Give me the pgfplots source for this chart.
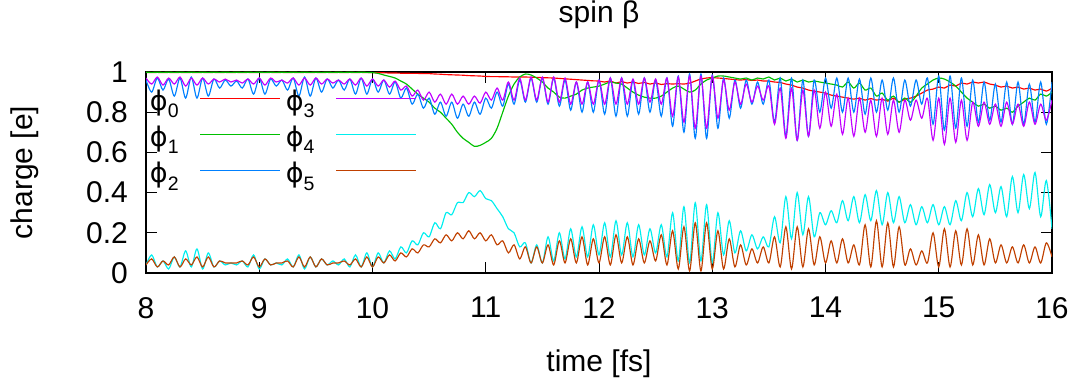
\documentclass[border=0pt]{standalone}
\usepackage{fontspec}
\setmainfont{Liberation Sans}
\newfontfamily\dejavu{DejaVu Sans}
\usepackage{pgfplots}
\usepackage{pgfplotstable}
\pgfplotsset{compat=1.18}
\definecolor{c0}{HTML}{FF0000}
\definecolor{c1}{HTML}{00C000}
\definecolor{c2}{HTML}{0080FF}
\definecolor{c3}{HTML}{C000FF}
\definecolor{c4}{HTML}{00EEEE}
\definecolor{c5}{HTML}{C04000}
\newcommand{\ph}[1]{{\dejavu ϕ}\raisebox{-7.5bp}{\fontsize{19.5bp}{20bp}\selectfont #1}}
\pgfplotstableread{
t p0 p1 p2 p3 p4 p5
8.00 0.998 0.999 0.96 0.97 0.04 0.04
8.05 0.997 0.998 0.90 0.94 0.09 0.07
8.10 0.998 0.999 0.97 0.975 0.03 0.03
8.15 0.997 0.998 0.91 0.935 0.06 0.06
8.20 0.998 0.999 0.965 0.97 0.02 0.04
8.25 0.997 0.998 0.88 0.94 0.08 0.08
8.30 0.998 0.999 0.97 0.975 0.03 0.03
8.35 0.997 0.998 0.87 0.93 0.11 0.07
8.40 0.998 0.999 0.975 0.97 0.03 0.04
8.45 0.997 0.998 0.87 0.935 0.12 0.08
8.50 0.998 0.999 0.97 0.97 0.02 0.03
8.55 0.997 0.998 0.88 0.94 0.10 0.08
8.60 0.998 0.999 0.965 0.965 0.03 0.03
8.65 0.997 0.998 0.92 0.95 0.06 0.06
8.70 0.998 0.999 0.96 0.965 0.04 0.05
8.75 0.997 0.998 0.93 0.95 0.05 0.05
8.80 0.998 0.999 0.955 0.96 0.04 0.05
8.85 0.997 0.998 0.92 0.945 0.06 0.06
8.90 0.998 0.999 0.965 0.965 0.03 0.04
8.95 0.997 0.998 0.89 0.94 0.09 0.08
9.00 0.998 0.999 0.97 0.97 0.02 0.03
9.05 0.997 0.998 0.89 0.935 0.07 0.07
9.10 0.998 0.999 0.965 0.97 0.04 0.04
9.15 0.997 0.998 0.93 0.95 0.05 0.05
9.20 0.998 0.999 0.96 0.96 0.04 0.05
9.25 0.997 0.998 0.91 0.945 0.07 0.06
9.30 0.998 0.999 0.97 0.97 0.03 0.03
9.35 0.997 0.998 0.88 0.935 0.09 0.08
9.40 0.998 0.999 0.975 0.97 0.02 0.03
9.45 0.997 0.998 0.88 0.935 0.08 0.08
9.50 0.998 0.999 0.97 0.97 0.03 0.03
9.55 0.997 0.998 0.90 0.94 0.07 0.07
9.60 0.998 0.999 0.965 0.965 0.04 0.04
9.65 0.997 0.998 0.92 0.945 0.06 0.05
9.70 0.998 0.999 0.96 0.96 0.04 0.05
9.75 0.997 0.998 0.91 0.94 0.07 0.06
9.80 0.998 0.999 0.965 0.965 0.03 0.04
9.85 0.997 0.998 0.89 0.935 0.09 0.07
9.90 0.998 0.999 0.97 0.97 0.03 0.03
9.95 0.997 0.998 0.89 0.93 0.10 0.08
10.00 0.997 0.997 0.965 0.965 0.03 0.03
10.05 0.996 0.993 0.90 0.93 0.10 0.08
10.10 0.996 0.985 0.96 0.96 0.05 0.05
10.15 0.995 0.978 0.89 0.925 0.11 0.09
10.20 0.995 0.97 0.95 0.955 0.07 0.06
10.25 0.994 0.955 0.87 0.91 0.13 0.10
10.30 0.994 0.94 0.92 0.93 0.10 0.08
10.35 0.993 0.915 0.84 0.88 0.16 0.12
10.40 0.993 0.89 0.89 0.91 0.14 0.10
10.45 0.992 0.87 0.82 0.86 0.20 0.14
10.50 0.992 0.85 0.87 0.90 0.18 0.13
10.55 0.990 0.82 0.79 0.85 0.25 0.17
10.60 0.989 0.80 0.85 0.89 0.22 0.15
10.65 0.987 0.77 0.78 0.84 0.30 0.19
10.70 0.986 0.74 0.85 0.89 0.29 0.16
10.75 0.985 0.70 0.77 0.84 0.35 0.20
10.80 0.984 0.67 0.84 0.88 0.35 0.17
10.85 0.982 0.65 0.78 0.84 0.40 0.21
10.90 0.981 0.63 0.85 0.88 0.38 0.17
10.95 0.980 0.635 0.79 0.845 0.41 0.20
11.00 0.978 0.65 0.87 0.90 0.37 0.16
11.05 0.977 0.67 0.82 0.86 0.36 0.19
11.10 0.977 0.72 0.90 0.92 0.32 0.14
11.15 0.976 0.80 0.83 0.86 0.28 0.16
11.20 0.976 0.88 0.94 0.95 0.22 0.10
11.25 0.975 0.94 0.84 0.86 0.20 0.14
11.30 0.975 0.975 0.96 0.97 0.13 0.07
11.35 0.975 0.99 0.85 0.86 0.15 0.13
11.40 0.974 0.985 0.97 0.975 0.05 0.05
11.45 0.973 0.97 0.85 0.86 0.14 0.13
11.50 0.972 0.95 0.97 0.975 0.05 0.05
11.55 0.971 0.92 0.84 0.85 0.18 0.14
11.60 0.970 0.90 0.97 0.975 0.06 0.04
11.65 0.968 0.875 0.83 0.85 0.20 0.16
11.70 0.966 0.87 0.96 0.97 0.07 0.05
11.75 0.964 0.88 0.81 0.84 0.22 0.17
11.80 0.962 0.89 0.95 0.95 0.08 0.05
11.85 0.960 0.91 0.80 0.84 0.23 0.18
11.90 0.958 0.92 0.95 0.95 0.08 0.04
11.95 0.956 0.925 0.80 0.84 0.24 0.17
12.00 0.955 0.93 0.96 0.96 0.09 0.05
12.05 0.950 0.94 0.79 0.84 0.25 0.18
12.10 0.955 0.95 0.97 0.97 0.08 0.04
12.15 0.945 0.945 0.78 0.84 0.26 0.19
12.20 0.952 0.94 0.97 0.97 0.09 0.05
12.25 0.945 0.92 0.78 0.84 0.25 0.18
12.30 0.950 0.90 0.96 0.965 0.08 0.04
12.35 0.943 0.885 0.79 0.84 0.24 0.17
12.40 0.948 0.875 0.97 0.97 0.09 0.05
12.45 0.940 0.87 0.80 0.85 0.22 0.16
12.50 0.945 0.87 0.96 0.965 0.10 0.06
12.55 0.938 0.88 0.78 0.84 0.24 0.19
12.60 0.942 0.90 0.97 0.97 0.08 0.04
12.65 0.940 0.92 0.73 0.78 0.30 0.21
12.70 0.942 0.93 0.98 0.975 0.06 0.02
12.75 0.940 0.915 0.70 0.75 0.33 0.23
12.80 0.945 0.90 0.99 0.98 0.05 0.01
12.85 0.955 0.91 0.67 0.72 0.35 0.25
12.90 0.965 0.94 0.99 0.98 0.06 0.01
12.95 0.970 0.96 0.67 0.72 0.34 0.25
13.00 0.972 0.97 0.985 0.98 0.05 0.02
13.05 0.970 0.98 0.72 0.77 0.30 0.21
13.10 0.968 0.98 0.97 0.96 0.09 0.02
13.15 0.965 0.975 0.77 0.81 0.26 0.17
13.20 0.962 0.97 0.96 0.95 0.10 0.03
13.25 0.960 0.965 0.82 0.84 0.21 0.14
13.30 0.962 0.97 0.96 0.94 0.11 0.04
13.35 0.958 0.96 0.84 0.85 0.19 0.12
13.40 0.960 0.97 0.95 0.93 0.12 0.05
13.45 0.955 0.965 0.84 0.86 0.18 0.13
13.50 0.955 0.975 0.96 0.93 0.13 0.05
13.55 0.950 0.96 0.75 0.74 0.28 0.18
13.60 0.948 0.97 0.97 0.92 0.15 0.03
13.65 0.940 0.955 0.68 0.67 0.38 0.23
13.70 0.935 0.965 0.97 0.92 0.17 0.02
13.75 0.925 0.95 0.66 0.66 0.40 0.23
13.80 0.920 0.96 0.96 0.91 0.19 0.03
13.85 0.910 0.95 0.68 0.68 0.38 0.22
13.90 0.905 0.955 0.96 0.91 0.18 0.04
13.95 0.900 0.95 0.80 0.72 0.30 0.18
14.00 0.895 0.945 0.97 0.90 0.24 0.05
14.05 0.885 0.94 0.82 0.73 0.31 0.16
14.10 0.880 0.935 0.97 0.89 0.25 0.05
14.15 0.875 0.925 0.80 0.69 0.36 0.17
14.20 0.870 0.95 0.97 0.87 0.26 0.05
14.25 0.865 0.92 0.80 0.68 0.38 0.14
14.30 0.870 0.945 0.965 0.87 0.25 0.04
14.35 0.860 0.91 0.79 0.70 0.39 0.24
14.40 0.868 0.92 0.97 0.86 0.26 0.03
14.45 0.860 0.88 0.80 0.68 0.41 0.26
14.50 0.865 0.895 0.96 0.87 0.24 0.03
14.55 0.855 0.86 0.81 0.69 0.40 0.25
14.60 0.870 0.88 0.97 0.86 0.25 0.03
14.65 0.850 0.85 0.80 0.70 0.38 0.23
14.70 0.865 0.87 0.96 0.86 0.25 0.04
14.75 0.870 0.85 0.83 0.76 0.34 0.12
14.80 0.880 0.88 0.96 0.86 0.24 0.04
14.85 0.895 0.92 0.84 0.77 0.33 0.11
14.90 0.910 0.94 0.97 0.87 0.25 0.05
14.95 0.915 0.96 0.74 0.66 0.34 0.20
15.00 0.925 0.97 0.98 0.87 0.24 0.03
15.05 0.920 0.965 0.71 0.64 0.33 0.22
15.10 0.935 0.95 0.98 0.87 0.24 0.03
15.15 0.930 0.93 0.72 0.65 0.36 0.21
15.20 0.945 0.90 0.97 0.86 0.26 0.04
15.25 0.940 0.87 0.73 0.66 0.40 0.22
15.30 0.950 0.85 0.96 0.85 0.28 0.04
15.35 0.945 0.83 0.75 0.73 0.42 0.19
15.40 0.950 0.84 0.95 0.85 0.29 0.04
15.45 0.940 0.82 0.76 0.74 0.44 0.17
15.50 0.935 0.83 0.94 0.84 0.30 0.05
15.55 0.925 0.81 0.75 0.73 0.43 0.14
15.60 0.930 0.82 0.95 0.85 0.28 0.05
15.65 0.920 0.80 0.74 0.74 0.48 0.13
15.70 0.925 0.83 0.95 0.84 0.30 0.05
15.75 0.915 0.85 0.74 0.73 0.49 0.14
15.80 0.920 0.87 0.94 0.85 0.32 0.05
15.85 0.910 0.86 0.75 0.74 0.50 0.13
15.90 0.915 0.89 0.95 0.84 0.28 0.05
15.95 0.905 0.88 0.74 0.76 0.46 0.15
16.00 0.920 0.90 0.95 0.86 0.22 0.08
}\data
\begin{document}
\fontsize{30bp}{36bp}\selectfont
\begin{tikzpicture}
\path[use as bounding box] (0,0) rectangle (1079bp,384bp);
\begin{axis}[
  at={(146bp,111bp)}, anchor=south west,
  scale only axis, width=906bp, height=201bp,
  xmin=8, xmax=16, ymin=0, ymax=1,
  xtick={8,9,...,16}, ytick={0,0.2,0.4,0.6,0.8,1},
  tick pos=both, tick align=inside,
  major tick length=11bp,
  every tick/.style={black, line width=1bp},
  axis line style={black, line width=1.3bp},
  /pgf/number format/assume math mode=true,
  xticklabel style={anchor=north, inner sep=0pt, yshift=-24bp},
  yticklabel style={anchor=east, inner sep=0pt, xshift=-18bp},
  title={spin β},
  title style={at={(axis description cs:0.5,1)}, anchor=base, inner sep=0pt, yshift=44bp},
  xlabel={time [fs]},
  xlabel style={at={(axis description cs:0.5,0)}, anchor=base, inner sep=0pt, yshift=-98.5bp},
  ylabel={charge [e]},
  ylabel style={at={(axis description cs:-0.12506,0.5)}, anchor=base, inner sep=0pt, rotate=0},
  legend columns=3,
  transpose legend,
  legend plot pos=right,
  legend style={at={(axis description cs:0.0044,0.930)}, anchor=north west,
    draw=none, fill=none, inner sep=0pt, outer sep=0pt, column sep=0pt, row sep=0pt,
    font=\fontsize{27bp}{30bp}\selectfont,
    nodes={inner sep=0pt, text height=24bp, text depth=12.3bp}},
  legend cell align=left,
  legend image code/.code={\draw[#1] (21bp,6bp) -- (101bp,6bp); \path (0bp,0bp) (106bp,0bp);},
  every axis plot/.append style={line width=1.15bp},
]
\addplot[c0, smooth, tension=0.5] table[x=t, y=p0] {\data};
\addplot[c1, smooth, tension=0.5] table[x=t, y=p1] {\data};
\addplot[c2, smooth, tension=0.5] table[x=t, y=p2] {\data};
\addplot[c3, smooth, tension=0.5] table[x=t, y=p3] {\data};
\addplot[c4, smooth, tension=0.5] table[x=t, y=p4] {\data};
\addplot[c5, smooth, tension=0.5] table[x=t, y=p5] {\data};
\legend{\ph{0},\ph{1},\ph{2},\ph{3},\ph{4},\ph{5}}
\end{axis}
\end{tikzpicture}
\end{document}
